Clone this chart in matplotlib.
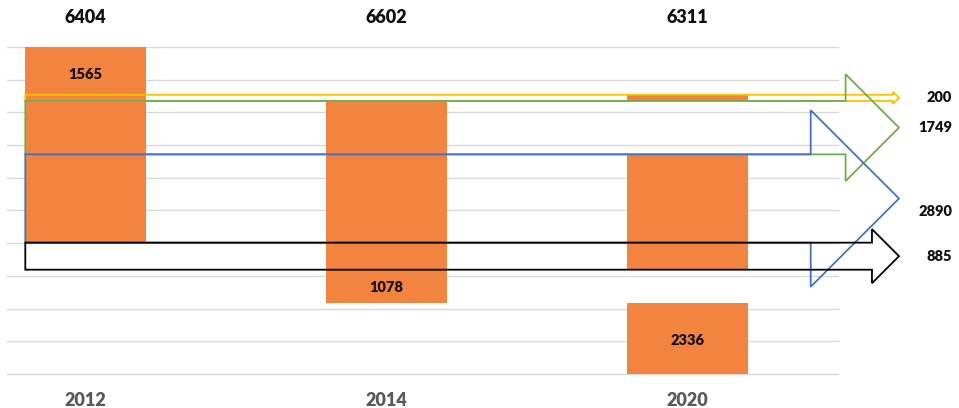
import numpy as np
import matplotlib
matplotlib.use("Agg")
import matplotlib.pyplot as plt
from matplotlib.patches import Polygon

plt.rcParams['font.family'] = ['Lato', 'DejaVu Sans']

# data
years = ["2012", "2014", "2020"]
totals = [6404, 6602, 6311]
lost_2012 = 1565
flows = [200, 1749, 2890, 885]          # yellow, green, blue, black
flow_colors = ["#FFC000", "#70AD47", "#4472C4", "#000000"]
lost_2014 = 1078
new_2020 = 2336

orange = "#F2843F"

# stacking from the top of the 2012 column downwards
flow_top = lost_2012 + np.concatenate([[0], np.cumsum(flows)[:-1]])
flow_bot = flow_top + np.array(flows)
bottom_all = flow_bot[-1] + lost_2014 + new_2020

# geometry helpers (pixels of the 959x408 canvas)
px_per_unit = 327.0 / bottom_all   # vertical
px_per_x = 301.0                    # horizontal spacing of columns
bar_w = 0.4

fig = plt.figure(figsize=(9.59, 4.08), dpi=100)
ax = fig.add_axes([0, 0, 1, 1])
ax.set_xlim(-85.5 / px_per_x, (959 - 85.5) / px_per_x)
ax.set_ylim((408 - 47) / px_per_unit, -47 / px_per_unit)
ax.axis("off")

# gridlines
for g in np.linspace(0, bottom_all, 11):
    ax.plot([-0.26, 2.5], [g, g], color="#D9D9D9", lw=1.0, zorder=0)

# columns
# 2012: full column
ax.bar(0, totals[0], bottom=0, width=bar_w, color=orange, zorder=2)
# 2014: starts below the yellow band, ends below the lost part
ax.bar(1, totals[1], bottom=flow_top[1], width=bar_w, color=orange, zorder=2)
# 2020: yellow band, blue+black band, new part
ax.bar(2, flows[0], bottom=flow_top[0], width=bar_w, color=orange, zorder=2)
ax.bar(2, flows[2] + flows[3], bottom=flow_top[2], width=bar_w, color=orange, zorder=2)
ax.bar(2, new_2020, bottom=flow_bot[-1] + lost_2014, width=bar_w, color=orange, zorder=2)

# arrows (outline only)
x_left = -bar_w / 2
x_tip = (899 - 85.5) / px_per_x
for top, bot, col in zip(flow_top, flow_bot, flow_colors):
    w = bot - top
    head_len = w * px_per_unit / px_per_x
    xb = x_tip - head_len
    mid = (top + bot) / 2
    pts = [(x_left, top), (xb, top), (xb, top - w / 2), (x_tip, mid),
           (xb, bot + w / 2), (xb, bot), (x_left, bot)]
    ax.add_patch(Polygon(pts, closed=True, fill=False, edgecolor=col,
                         lw=1.3, zorder=3, joinstyle="miter"))

# text
for i, (yr, tot) in enumerate(zip(years, totals)):
    ax.text(i, -950, str(tot), ha="center", va="center", fontsize=13,
            fontweight="heavy", color="#111111")
    ax.text(i, 11560, yr, ha="center", va="center", fontsize=13,
            fontweight="heavy", color="#595959")

seg_kw = dict(ha="center", va="center", fontsize=10.5, fontweight="heavy",
              color="#111111", zorder=4)
ax.text(0, lost_2012 / 2 + 120, str(lost_2012), **seg_kw)
ax.text(1, flow_bot[-1] + lost_2014 / 2 + 60, str(lost_2014), **seg_kw)
ax.text(2, flow_bot[-1] + lost_2014 + new_2020 / 2 + 80, str(new_2020), **seg_kw)

label_y = [1665, 2640, 5370, 6850]
x_lab = (952 - 85.5) / px_per_x
for v, yl in zip(flows, label_y):
    ax.text(x_lab, yl, str(v), ha="right", va="center", fontsize=10.5,
            fontweight="heavy", color="#111111")

fig.savefig("out.png", dpi=100)
